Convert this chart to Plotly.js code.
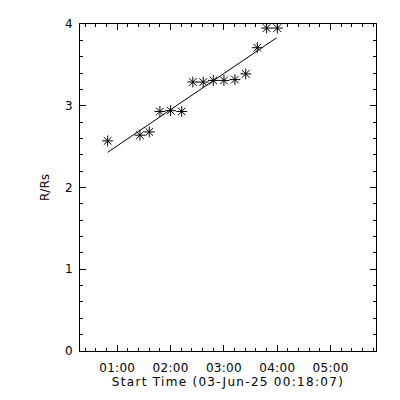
<!DOCTYPE html>
<html>
<head>
<meta charset="utf-8">
<script src="https://cdn.plot.ly/plotly-3.0.1.min.js"></script>
<style>
html,body{margin:0;padding:0;background:#fff;}
#chart{width:400px;height:400px;}
#chart .xtitle{letter-spacing:1.3px;}
#chart .xtick text{letter-spacing:0.3px;}
</style>
</head>
<body>
<div id="chart"></div>
<script>
// Measurement times (03-Jun-2025) and heights in solar radii
var times = [
  "2025-06-03 00:49:12", "2025-06-03 01:25:30", "2025-06-03 01:36:00",
  "2025-06-03 01:48:00", "2025-06-03 02:00:00", "2025-06-03 02:12:30",
  "2025-06-03 02:25:00", "2025-06-03 02:36:40", "2025-06-03 02:48:00",
  "2025-06-03 03:00:00", "2025-06-03 03:12:20", "2025-06-03 03:24:30",
  "2025-06-03 03:37:30", "2025-06-03 03:48:00", "2025-06-03 04:00:00"
];
var heights = [2.57, 2.64, 2.68, 2.93, 2.94, 2.93, 3.29, 3.29, 3.31, 3.31, 3.32, 3.39, 3.71, 3.95, 3.95];

// Fitted line
var fitTimes = ["2025-06-03 00:49:12", "2025-06-03 03:59:00"];
var fitHeights = [2.43, 3.83];

var xRange = ["2025-06-03 00:18:07", "2025-06-03 05:51:00"];
var yRange = [0, 4];

var xTitle = "Start Time (03-Jun-25 00:18:07)";
var yTitle = "R/Rs";

var fnt = {family: "DejaVu Sans, sans-serif", size: 12, color: "#000"};

var traces = [
  {x: fitTimes, y: fitHeights, type: "scatter", mode: "lines",
   line: {color: "#000", width: 1}, hoverinfo: "skip"},
  {x: times, y: heights, type: "scatter", mode: "markers",
   marker: {symbol: "asterisk-open", size: 9, color: "#000", line: {color: "#000", width: 1}}}
];

var layout = {
  width: 400, height: 400,
  margin: {l: 80, r: 24, t: 24, b: 49, pad: 0},
  paper_bgcolor: "#fff", plot_bgcolor: "#fff",
  showlegend: false,
  font: fnt,
  xaxis: {
    type: "date", range: xRange,
    tick0: "2025-06-03 01:00:00", dtick: 3600000, tickformat: "%H:%M",
    ticks: "inside", ticklen: 6, tickwidth: 1, tickcolor: "#000",
    minor: {dtick: 720000, tick0: "2025-06-03 01:00:00", ticks: "inside", ticklen: 3, tickwidth: 1, tickcolor: "#000"},
    showline: true, linecolor: "#000", linewidth: 1, mirror: "ticks",
    showgrid: false, zeroline: false,
    tickfont: fnt, ticklabelstandoff: 6,
    title: {text: xTitle, font: fnt, standoff: 3}
  },
  yaxis: {
    range: yRange, dtick: 1, tick0: 0,
    ticks: "inside", ticklen: 6, tickwidth: 1, tickcolor: "#000",
    minor: {dtick: 0.2, ticks: "inside", ticklen: 3, tickwidth: 1, tickcolor: "#000"},
    showline: true, linecolor: "#000", linewidth: 1, mirror: "ticks",
    showgrid: false, zeroline: false,
    tickfont: fnt, ticklabelstandoff: 4,
    title: {text: yTitle, font: fnt, standoff: 12}
  }
};

Plotly.newPlot("chart", traces, layout, {staticPlot: true, displayModeBar: false});
</script>
</body>
</html>
